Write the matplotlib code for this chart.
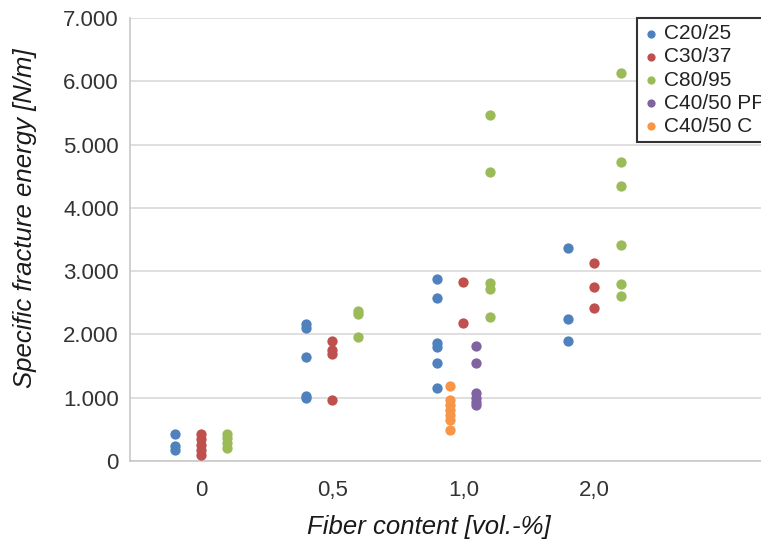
import matplotlib

matplotlib.use("Agg")
import matplotlib.pyplot as plt

plt.rcParams["font.family"] = ["Liberation Sans", "DejaVu Sans"]

# fibre content categories (x axis) and specific fracture energy values [N/m]
fiber = ["0", "0,5", "1,0", "2,0"]
c20_25 = [[430, 230, 180], [2160, 2100, 1650, 1030, 1000],
          [2880, 2580, 1870, 1800, 1550, 1160], [3370, 2250, 1890]]
c30_37 = [[420, 340, 260, 180, 100], [1900, 1750, 1690, 970],
          [2830, 2180], [3130, 2750, 2410]]
c80_95 = [[430, 360, 280, 200], [2370, 2330, 1960],
          [5470, 4570, 2810, 2720, 2280], [6130, 4720, 4350, 3410, 2800, 2610]]
c40_50_pp = [[], [], [1810, 1550, 1070, 1000, 940, 880], []]
c40_50_c = [[], [], [1190, 960, 880, 800, 730, 650, 490], []]

y_ticks = [0, 1000, 2000, 3000, 4000, 5000, 6000, 7000]
y_ticklabels = ["0", "1.000", "2.000", "3.000", "4.000", "5.000", "6.000", "7.000"]

# name, values, colour, horizontal offset inside a category
series = [
    ("C20/25", c20_25, "#4F81BD", -0.2),
    ("C30/37", c30_37, "#C0504D", 0.0),
    ("C80/95", c80_95, "#9BBB59", 0.2),
    ("C40/50 PP", c40_50_pp, "#8064A2", 0.1),
    ("C40/50 C", c40_50_c, "#F79646", -0.1),
]

W, H = 761, 548
fig = plt.figure(figsize=(W / 100, H / 100), dpi=100)
ax = fig.add_axes([130 / W, (H - 461) / H, (W - 130) / W, (461 - 18) / H])

for name, vals, color, off in series:
    xs, ys = [], []
    for i, group in enumerate(vals):
        xs += [i + off] * len(group)
        ys += group
    ax.scatter(xs, ys, s=55, color=color, linewidths=0, label=name, zorder=3)

ax.set_xlim(-0.542, 4.27)
ax.set_ylim(0, 7000)
ax.set_xticks(range(len(fiber)))
ax.set_xticklabels(fiber)
ax.set_yticks(y_ticks)
ax.set_yticklabels(y_ticklabels)
ax.tick_params(axis="both", length=0, labelsize=16, colors="#333333")
ax.tick_params(axis="y", pad=8)
ax.tick_params(axis="x", pad=14)
ax.grid(axis="y", color="#d9d9d9", lw=1.2, zorder=0)
ax.set_axisbelow(True)
for side in ["top", "right"]:
    ax.spines[side].set_visible(False)
ax.spines["left"].set_color("#c8c8c8")
ax.spines["bottom"].set_color("#c8c8c8")
ax.spines["left"].set_linewidth(1.2)
ax.spines["bottom"].set_linewidth(1.2)

fig.text(25 / W, 1 - 218 / H, "Specific fracture energy [N/m]", rotation=90,
         ha="center", va="center", fontsize=18.5, style="italic", color="#1a1a1a")
fig.text(429 / W, 1 - 527 / H, "Fiber content [vol.-%]",
         ha="center", va="center", fontsize=18.5, style="italic", color="#1a1a1a")

leg = fig.legend(loc="upper left", bbox_to_anchor=(637 / W, 1 - 18 / H),
                 fontsize=15, markerscale=0.8, handlelength=0.7,
                 handletextpad=0.3, labelspacing=0.2, borderpad=0.3,
                 borderaxespad=0, fancybox=False, framealpha=1)
leg.get_frame().set_edgecolor("#333333")
leg.get_frame().set_linewidth(1.5)
for t in leg.get_texts():
    t.set_color("#222222")

fig.savefig("out.png", dpi=100)
